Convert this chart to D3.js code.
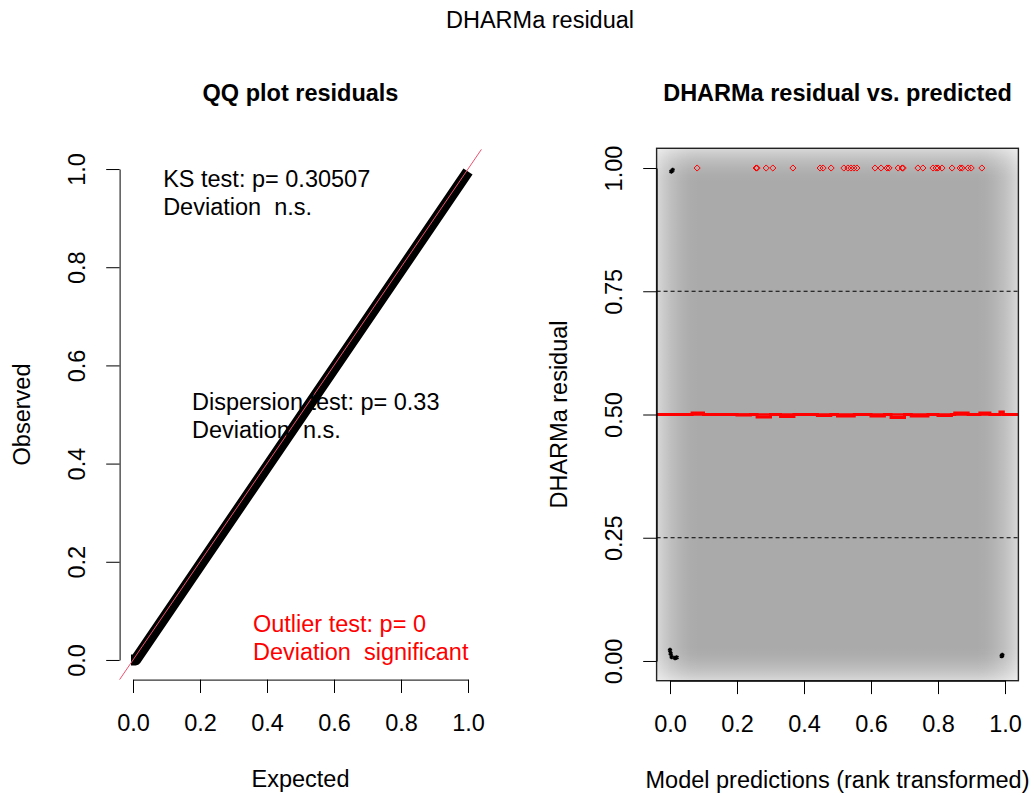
<!DOCTYPE html>
<html>
<head>
<meta charset="utf-8">
<script src="https://cdn.jsdelivr.net/npm/d3@7"></script>
<style>
  body { margin: 0; background: #fff; }
  text { font-family: "Liberation Sans", Arial, sans-serif; white-space: pre; }
</style>
</head>
<body>
<div id="chart"></div>
<script>
// Chart data
const axisTicks = [0, 0.2, 0.4, 0.6, 0.8, 1.0];
const residTicks = [0, 0.25, 0.5, 0.75, 1.0];
const refLines = [0.25, 0.75];

// QQ plot: expected vs observed quantiles (dense band)
const qqExpected = [-0.006, 0.008, 0.25, 0.5, 0.75, 1.0];
const qqObserved = [0.0, 0.0, 0.243, 0.4935, 0.744, 0.995];

// test annotations (left plot)
const testLabels = [
  { x: 0.09, y: 0.964, line1: "KS test: p= 0.30507", line2: "Deviation  n.s.", color: "#000" },
  { x: 0.176, y: 0.509, line1: "Dispersion test: p= 0.33", line2: "Deviation  n.s.", color: "#000" },
  { x: 0.358, y: 0.057, line1: "Outlier test: p= 0", line2: "Deviation  significant", color: "#ff0000" }
];

// residual vs predicted: outliers at 1 (red)
const outlierX = [0.081, 0.257, 0.26, 0.287, 0.307, 0.367, 0.448, 0.457, 0.481, 0.519, 0.531,
  0.54, 0.549, 0.558, 0.612, 0.63, 0.648, 0.654, 0.681, 0.693, 0.696, 0.74, 0.755, 0.785,
  0.794, 0.8, 0.812, 0.842, 0.866, 0.872, 0.89, 0.899, 0.931];
const outlierY = 1.0;

// residual vs predicted: black points near the corners
const blackX = [0.004, 0.008, 0.0, 0.002, 0.005, 0.015, 0.02, 0.99, 0.992];
const blackY = [0.993, 0.996, 0.022, 0.015, 0.008, 0.006, 0.007, 0.01, 0.012];

// quantile line at 0.5 (red, step-like)
const medX = [-0.04, 0.066, 0.1, 0.2, 0.24, 0.26, 0.3, 0.33, 0.37, 0.44, 0.48, 0.5, 0.55, 0.6,
  0.64, 0.66, 0.7, 0.72, 0.77, 0.8, 0.84, 0.85, 0.89, 0.925, 0.955, 0.985, 0.995, 1.04];
const medY = [0.5, 0.503, 0.5, 0.499, 0.5, 0.495, 0.5, 0.496, 0.5, 0.498, 0.5, 0.497, 0.5, 0.497,
  0.5, 0.494, 0.5, 0.497, 0.5, 0.498, 0.5, 0.503, 0.5, 0.503, 0.5, 0.505, 0.5, 0.5];

const W = 1034, H = 796;
const fs = 23.5;

const svg = d3.select("#chart").append("svg")
  .attr("width", W).attr("height", H);

// panel regions (R "usr" = data range +-4%)
const left = { x0: 119.6, x1: 481.4, y0: 149.4, y1: 679.6 };
const right = { x0: 656.6, x1: 1018.4, y0: 148.3, y1: 680.7 };

const lx = d3.scaleLinear().domain([-0.04, 1.04]).range([left.x0, left.x1]);
const ly = d3.scaleLinear().domain([-0.04, 1.04]).range([left.y1, left.y0]);
const rx = d3.scaleLinear().domain([-0.04, 1.04]).range([right.x0, right.x1]);
const ry = d3.scaleLinear().domain([-0.04, 1.04]).range([right.y1, right.y0]);

// Overall title
svg.append("text")
  .attr("x", 540).attr("y", 28)
  .attr("text-anchor", "middle")
  .style("font-size", fs + "px")
  .text("DHARMa residual");

function drawAxes(x, y, xTicks, yTicks, xFmt, yFmt, xLab, yLab, title) {
  const xa = x.copy().domain([0, 1]).range([x(0), x(1)]);
  const ya = y.copy().domain([0, 1]).range([y(0), y(1)]);
  const [xr0, xr1] = x.range();
  const yBottom = y.range()[0];

  const gx = svg.append("g")
    .attr("class", "axis")
    .attr("transform", `translate(0,${yBottom})`)
    .call(d3.axisBottom(xa).tickValues(xTicks).tickSize(13.4).tickSizeOuter(0).tickFormat(xFmt));
  gx.selectAll("text")
    .attr("y", 51).attr("dy", 0)
    .attr("fill", "#000")
    .style("font-size", fs + "px");

  const gy = svg.append("g")
    .attr("class", "axis")
    .attr("transform", `translate(${xr0},0)`)
    .call(d3.axisLeft(ya).tickValues(yTicks).tickSize(13.4).tickSizeOuter(0).tickFormat(yFmt));
  gy.selectAll("text")
    .attr("transform", "rotate(-90)")
    .attr("x", 0).attr("y", -34.6).attr("dy", 0)
    .attr("text-anchor", "middle")
    .attr("fill", "#000")
    .style("font-size", fs + "px");

  svg.selectAll(".axis path, .axis line").attr("stroke", "#000").attr("stroke-width", 1);

  const cx = (xr0 + xr1) / 2;
  const cy = (y.range()[0] + y.range()[1]) / 2;

  svg.append("text")
    .attr("x", cx).attr("y", yBottom + 107)
    .attr("text-anchor", "middle")
    .style("font-size", fs + "px")
    .text(xLab);

  svg.append("text")
    .attr("transform", `translate(${xr0 - 89.6},${cy}) rotate(-90)`)
    .attr("text-anchor", "middle")
    .style("font-size", fs + "px")
    .text(yLab);

  svg.append("text")
    .attr("x", cx).attr("y", 101)
    .attr("text-anchor", "middle")
    .style("font-size", fs + "px")
    .style("font-weight", "bold")
    .text(title);
}

// ---------- Left: QQ plot ----------
const qqData = qqExpected.map((e, i) => ({ e, o: qqObserved[i] }));

svg.append("path")
  .datum(qqData)
  .attr("d", d3.line().x(d => lx(d.e)).y(d => ly(d.o)))
  .attr("fill", "none")
  .attr("stroke", "#000")
  .attr("stroke-width", 11)
  .attr("stroke-linejoin", "round");

// 1:1 reference line across the plot region
svg.append("line")
  .attr("x1", lx(-0.04)).attr("y1", ly(-0.04))
  .attr("x2", lx(1.04)).attr("y2", ly(1.04))
  .attr("stroke", "#f0506e")
  .attr("stroke-width", 1);

testLabels.forEach(t => {
  const txt = svg.append("text")
    .attr("x", lx(t.x)).attr("y", ly(t.y))
    .attr("fill", t.color)
    .style("font-size", fs + "px");
  txt.append("tspan").attr("x", lx(t.x)).text(t.line1);
  txt.append("tspan").attr("x", lx(t.x)).attr("dy", 28).text(t.line2);
});

drawAxes(lx, ly, axisTicks, axisTicks, d3.format(".1f"), d3.format(".1f"),
  "Expected", "Observed", "QQ plot residuals");

// ---------- Right: residual vs predicted ----------
const defs = svg.append("defs");
function fade(id, x1, y1, x2, y2) {
  const gr = defs.append("linearGradient").attr("id", id)
    .attr("x1", x1).attr("y1", y1).attr("x2", x2).attr("y2", y2);
  [[0, 0.55], [0.15, 0.4], [0.35, 0.24], [0.6, 0.1], [0.8, 0.03], [1, 0]].forEach(s => {
    gr.append("stop").attr("offset", s[0]).attr("stop-color", "#fff").attr("stop-opacity", s[1]);
  });
}
fade("fadeL", 0, 0, 1, 0);
fade("fadeR", 1, 0, 0, 0);
fade("fadeT", 0, 0, 0, 1);
fade("fadeB", 0, 1, 0, 0);

const rw = right.x1 - right.x0, rh = right.y1 - right.y0;
svg.append("rect")
  .attr("x", right.x0).attr("y", right.y0).attr("width", rw).attr("height", rh)
  .attr("fill", "#aaaaaa");
const fw = 42, fh = 34;
svg.append("rect").attr("x", right.x0).attr("y", right.y0).attr("width", fw).attr("height", rh).attr("fill", "url(#fadeL)");
svg.append("rect").attr("x", right.x1 - fw).attr("y", right.y0).attr("width", fw).attr("height", rh).attr("fill", "url(#fadeR)");
svg.append("rect").attr("x", right.x0).attr("y", right.y0).attr("width", rw).attr("height", fh).attr("fill", "url(#fadeT)");
svg.append("rect").attr("x", right.x0).attr("y", right.y1 - fh).attr("width", rw).attr("height", fh).attr("fill", "url(#fadeB)");

// black points
svg.selectAll(".bpt")
  .data(blackX.map((x, i) => ({ x, y: blackY[i] })))
  .enter().append("path")
  .attr("class", "bpt")
  .attr("transform", d => `translate(${rx(d.x)},${ry(d.y)})`)
  .attr("d", d3.symbol(d3.symbolAsterisk, 14))
  .attr("fill", "none")
  .attr("stroke", "#000")
  .attr("stroke-width", 1.6);

// dashed reference lines
svg.selectAll(".ref")
  .data(refLines)
  .enter().append("line")
  .attr("class", "ref")
  .attr("x1", right.x0).attr("x2", right.x1)
  .attr("y1", d => ry(d)).attr("y2", d => ry(d))
  .attr("stroke", "#000")
  .attr("stroke-width", 1)
  .attr("stroke-dasharray", "4,3");

// red quantile line
const medData = medX.map((x, i) => ({ x, y: medY[i] }));
svg.append("path")
  .datum(medData)
  .attr("d", d3.line().x(d => rx(d.x)).y(d => ry(d.y)).curve(d3.curveStepAfter))
  .attr("fill", "none")
  .attr("stroke", "#ff0000")
  .attr("stroke-width", 3);
svg.append("line")
  .attr("x1", right.x0).attr("x2", right.x1)
  .attr("y1", ry(0.5)).attr("y2", ry(0.5))
  .attr("stroke", "#ff0000")
  .attr("stroke-width", 2.5);

// red outliers
svg.selectAll(".opt")
  .data(outlierX)
  .enter().append("path")
  .attr("class", "opt")
  .attr("transform", d => `translate(${rx(d)},${ry(outlierY)})`)
  .attr("d", d3.symbol(d3.symbolDiamond2, 24))
  .attr("fill", "none")
  .attr("stroke", "#ff0000")
  .attr("stroke-width", 1);

// box
svg.append("rect")
  .attr("x", right.x0).attr("y", right.y0).attr("width", rw).attr("height", rh)
  .attr("fill", "none")
  .attr("stroke", "#222")
  .attr("stroke-width", 1.4);

drawAxes(rx, ry, axisTicks, residTicks, d3.format(".1f"), d3.format(".2f"),
  "Model predictions (rank transformed)", "DHARMa residual", "DHARMa residual vs. predicted");
</script>
</body>
</html>
